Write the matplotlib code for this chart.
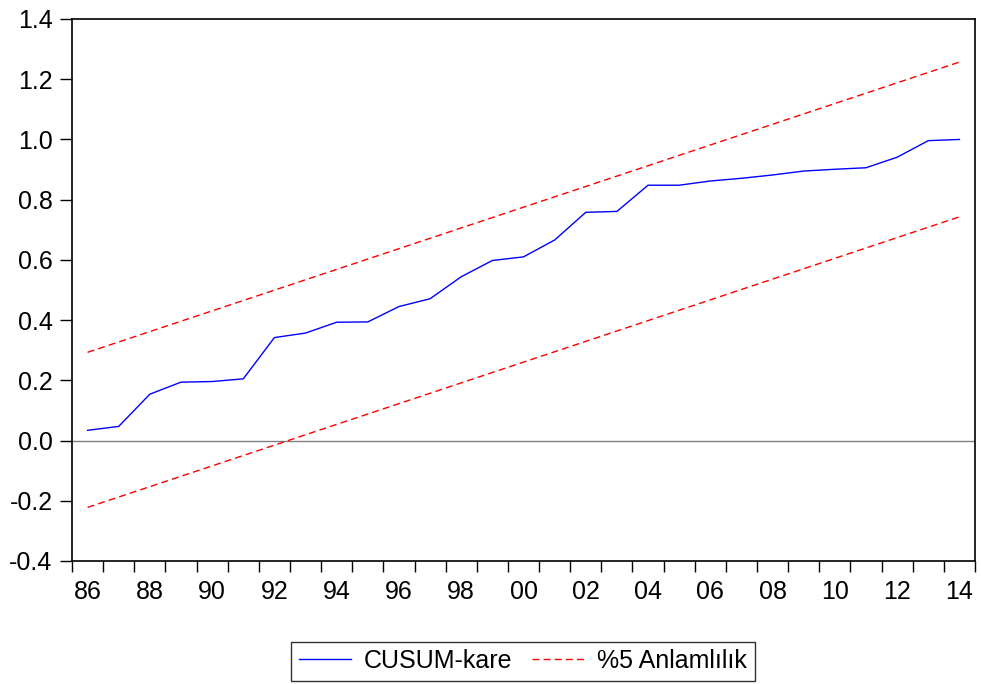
import matplotlib
import matplotlib.pyplot as plt
from matplotlib.ticker import FixedLocator, FuncFormatter

matplotlib.use('Agg')

plt.rcParams['font.family'] = ['Liberation Sans', 'DejaVu Sans']

# CUSUM of squares, annual 1986-2014
years = list(range(1986, 2015))
cusum_sq = [0.034, 0.047, 0.154, 0.194, 0.196, 0.205, 0.342, 0.357, 0.393, 0.394,
            0.445, 0.471, 0.544, 0.598, 0.610, 0.666, 0.758, 0.761, 0.848, 0.848,
            0.862, 0.871, 0.882, 0.895, 0.901, 0.906, 0.941, 0.996, 1.000]

# 5% significance bounds (straight lines between the end years)
bound_years = [1986, 2014]
upper = [0.293, 1.257]
lower = [-0.222, 0.743]

yticks = [-0.4, -0.2, 0.0, 0.2, 0.4, 0.6, 0.8, 1.0, 1.2, 1.4]
label_years = list(range(1986, 2015, 2))

FS = 18

fig = plt.figure(figsize=(9.81, 6.84), dpi=100)
ax = fig.add_axes([72 / 981, 1 - 561 / 684, 903 / 981, 542 / 684])

ax.axhline(0, color='#808080', lw=1.0, zorder=1)
ax.plot(years, cusum_sq, color='#0000ff', lw=1.0, label='CUSUM-kare', zorder=3)
ax.plot(bound_years, upper, color='#ff0000', lw=1.0, dashes=(5, 3), label='%5 Anlamlılık', zorder=2)
ax.plot(bound_years, lower, color='#ff0000', lw=1.0, dashes=(5, 3), zorder=2)

ax.set_xlim(1985.5, 2014.5)
ax.set_ylim(-0.4, 1.4)

ax.set_yticks(yticks)
ax.yaxis.set_major_formatter(FuncFormatter(lambda v, p: '%.1f' % v))
ax.tick_params(axis='y', direction='out', length=8.5, width=1.0, pad=5.5, labelsize=FS)

# year boundaries get tick marks, labels sit at the middle of every second year
ax.xaxis.set_major_locator(FixedLocator(label_years))
ax.xaxis.set_major_formatter(FuncFormatter(lambda v, p: '%02d' % (int(round(v)) % 100)))
ax.xaxis.set_minor_locator(FixedLocator([y - 0.5 for y in range(1986, 2016)]))
ax.tick_params(axis='x', which='major', length=0, pad=14, labelsize=FS)
ax.tick_params(axis='x', which='minor', direction='out', length=8, width=1.0)

for sp in ax.spines.values():
    sp.set_linewidth(1.2)
    sp.set_color('black')

leg = fig.legend(loc='center', bbox_to_anchor=(523 / 981, 1 - 661 / 684), ncol=2,
                 fontsize=FS, frameon=True, fancybox=False, edgecolor='black',
                 handlelength=2.1, handletextpad=0.5, columnspacing=0.8,
                 borderpad=0.3, borderaxespad=0)
leg.get_frame().set_linewidth(1.0)

fig.savefig('out.png', dpi=100)
